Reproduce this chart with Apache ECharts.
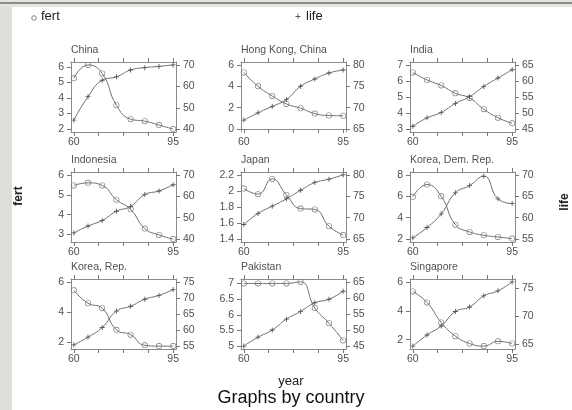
<!DOCTYPE html>
<html>
<head>
<meta charset="utf-8">
<title>fert / life by country</title>
<script src="https://cdn.jsdelivr.net/npm/echarts@6/dist/echarts.min.js"></script>
<style>
  html, body { margin: 0; padding: 0; background: #fff; }
  #chart { width: 572px; height: 410px; }
</style>
</head>
<body>
<div id="chart"></div>
<script>
// data
var years = [60, 65, 70, 75, 80, 85, 90, 95];
var countries = ['China', 'Hong Kong, China', 'India', 'Indonesia', 'Japan',
                 'Korea, Dem. Rep.', 'Korea, Rep.', 'Pakistan', 'Singapore'];

var fertChina     = [5.26, 6.12, 5.57, 3.53, 2.64, 2.51, 2.26, 2.0];
var fertHongKong  = [5.3, 4.0, 3.1, 2.35, 1.95, 1.45, 1.27, 1.25];
var fertIndia     = [6.53, 6.06, 5.72, 5.23, 4.94, 4.24, 3.71, 3.36];
var fertIndonesia = [5.47, 5.6, 5.47, 4.75, 4.27, 3.3, 2.98, 2.77];
var fertJapan     = [2.03, 1.96, 2.15, 1.95, 1.78, 1.77, 1.56, 1.45];
var fertKoreaDPR  = [5.95, 7.1, 6.0, 3.35, 2.67, 2.36, 2.2, 2.05];
var fertKoreaRep  = [5.44, 4.58, 4.25, 2.81, 2.49, 1.78, 1.73, 1.73];
var fertPakistan  = [7.0, 7.0, 7.0, 7.0, 7.05, 6.22, 5.73, 5.18];
var fertSingapore = [5.34, 4.58, 3.2, 2.25, 1.74, 1.56, 1.89, 1.74];

var lifeChina     = [44.2, 55.2, 62.9, 64.5, 67.7, 68.8, 69.4, 70.1];
var lifeHongKong  = [67.1, 68.8, 70.3, 71.9, 75.0, 76.7, 78.1, 78.8];
var lifeIndia     = [45.9, 48.5, 50.2, 53.0, 55.1, 58.3, 60.9, 63.5];
var lifeIndonesia = [42.9, 46.1, 48.7, 53.0, 55.3, 60.8, 62.5, 65.4];
var lifeJapan     = [68.4, 71.0, 72.7, 74.4, 76.4, 78.2, 79.0, 80.0];
var lifeKoreaDPR  = [55.3, 57.7, 60.9, 65.8, 67.5, 69.7, 64.4, 63.3];
var lifeKoreaRep  = [55.4, 57.8, 60.8, 65.9, 67.4, 69.6, 70.8, 72.6];
var lifePakistan  = [45.0, 47.8, 50.0, 53.4, 55.8, 58.5, 59.6, 62.1];
var lifeSingapore = [64.7, 66.7, 68.3, 70.9, 71.7, 73.7, 74.6, 76.2];

var fertTicks = [[2, 3, 4, 5, 6], [0, 2, 4, 6], [3, 4, 5, 6, 7], [3, 4, 5, 6],
                 [1.4, 1.6, 1.8, 2, 2.2], [2, 4, 6, 8], [2, 4, 6],
                 [5, 5.5, 6, 6.5, 7], [2, 4, 6]];
var lifeTicks = [[40, 50, 60, 70], [65, 70, 75, 80], [45, 50, 55, 60, 65],
                 [40, 50, 60, 70], [65, 70, 75, 80], [55, 60, 65, 70],
                 [55, 60, 65, 70, 75], [45, 50, 55, 60, 65], [65, 70, 75]];
var yearLabels = [60, 95];
var yearTicks = [60, 68.75, 77.5, 86.25, 95];

var fertAll = [fertChina, fertHongKong, fertIndia, fertIndonesia, fertJapan,
               fertKoreaDPR, fertKoreaRep, fertPakistan, fertSingapore];
var lifeAll = [lifeChina, lifeHongKong, lifeIndia, lifeIndonesia, lifeJapan,
               lifeKoreaDPR, lifeKoreaRep, lifePakistan, lifeSingapore];

var FONT = 'Liberation Sans, Arial, sans-serif';
var colLeft = [71, 241, 410];
var rowTop = [62, 172, 279];
var plusPath = 'path://M-0.7,-4L0.7,-4L0.7,-0.7L4,-0.7L4,0.7L0.7,0.7L0.7,4L-0.7,4L-0.7,0.7L-4,0.7L-4,-0.7L-0.7,-0.7Z';
// hollow ring drawn as a filled path so the stroke stays thin
var ringPath = 'path://M0,-5A5,5 0 1,1 0,5A5,5 0 1,1 0,-5ZM0,-4A4,4 0 1,0 0,4A4,4 0 1,0 0,-4Z';

function range(vals, ticks) {
    var lo = Math.min(Math.min.apply(null, vals), ticks[0]);
    var hi = Math.max(Math.max.apply(null, vals), ticks[ticks.length - 1]);
    var pad = (hi - lo) * 0.045;
    return [lo - pad, hi + pad];
}
function pairs(vals) {
    return years.map(function (y, i) { return [y, vals[i]]; });
}

var grids = [], xAxes = [], yAxes = [], series = [], graphics = [];
var axisLine = { lineStyle: { color: '#8a8a8a', width: 1 } };
var tickStyle = { color: '#777' };
function labels(values, margin) {
    return { customValues: values, color: '#505050', fontSize: 10.5, fontFamily: FONT, margin: margin };
}

countries.forEach(function (name, i) {
    var left = colLeft[i % 3], top = rowTop[Math.floor(i / 3)];
    grids.push({ left: left, top: top, width: 105, height: 70 });

    xAxes.push({
        gridIndex: i, type: 'value', position: 'bottom', min: 59, max: 96,
        axisLine: axisLine, splitLine: { show: false },
        axisTick: { length: 4, lineStyle: tickStyle, customValues: yearTicks },
        axisLabel: labels(yearLabels, 5)
    });
    xAxes.push({
        gridIndex: i, type: 'value', position: 'top', min: 59, max: 96,
        axisLine: axisLine, splitLine: { show: false },
        axisTick: { length: 4, lineStyle: tickStyle, customValues: yearTicks },
        axisLabel: { show: false }
    });

    var fr = range(fertAll[i], fertTicks[i]);
    var lr = range(lifeAll[i], lifeTicks[i]);
    yAxes.push({
        gridIndex: i, type: 'value', position: 'left', min: fr[0], max: fr[1],
        axisLine: Object.assign({ show: true }, axisLine), splitLine: { show: false },
        axisTick: { show: true, length: 4, lineStyle: tickStyle, customValues: fertTicks[i] },
        axisLabel: labels(fertTicks[i], 7)
    });
    yAxes.push({
        gridIndex: i, type: 'value', position: 'right', min: lr[0], max: lr[1],
        axisLine: Object.assign({ show: true }, axisLine), splitLine: { show: false },
        axisTick: { show: true, length: 4, lineStyle: tickStyle, customValues: lifeTicks[i] },
        axisLabel: labels(lifeTicks[i], 7)
    });

    series.push({
        name: 'fert', type: 'line', xAxisIndex: 2 * i, yAxisIndex: 2 * i,
        data: pairs(fertAll[i]), smooth: 0.5,
        symbol: ringPath, symbolSize: 6,
        lineStyle: { color: '#6e6e6e', width: 1 },
        itemStyle: { color: '#7a7a7a', borderWidth: 0 },
        animation: false
    });
    series.push({
        name: 'life', type: 'line', xAxisIndex: 2 * i, yAxisIndex: 2 * i + 1,
        data: pairs(lifeAll[i]), smooth: 0.5,
        symbol: plusPath, symbolSize: 5,
        lineStyle: { color: '#6e6e6e', width: 1 },
        itemStyle: { color: '#555', borderWidth: 0 },
        animation: false
    });

    graphics.push({
        type: 'text', left: left, top: top - 17,
        style: { text: name, fill: '#505050', font: '10.5px ' + FONT }
    });
});

// frame, legend and outer titles
graphics.push(
    { type: 'rect', shape: { x: 0, y: 0, width: 12, height: 410 }, style: { fill: '#dfdfda' } },
    { type: 'rect', shape: { x: 0, y: 0, width: 572, height: 7 }, style: { fill: '#e4e4df' } },
    { type: 'line', shape: { x1: 0, y1: 3, x2: 572, y2: 3 }, style: { stroke: '#333', lineWidth: 1 } },
    { type: 'circle', shape: { cx: 34, cy: 18, r: 2.3 }, style: { fill: '#fff', stroke: '#666', lineWidth: 0.8 } },
    { type: 'text', left: 41, top: 10, style: { text: 'fert', fill: '#222', font: '13px ' + FONT } },
    { type: 'text', left: 295, top: 12, style: { text: '+', fill: '#555', font: '10px ' + FONT } },
    { type: 'text', left: 306, top: 10, style: { text: 'life', fill: '#222', font: '13px ' + FONT } },
    { type: 'text', x: 19, y: 196, rotation: Math.PI / 2,
      style: { text: 'fert', fill: '#222', font: 'bold 12px ' + FONT, align: 'center', verticalAlign: 'middle' } },
    { type: 'text', x: 565, y: 202, rotation: Math.PI / 2,
      style: { text: 'life', fill: '#222', font: 'bold 12px ' + FONT, align: 'center', verticalAlign: 'middle' } },
    { type: 'text', x: 291, y: 381, style: { text: 'year', fill: '#222', font: '13px ' + FONT, align: 'center', verticalAlign: 'middle' } },
    { type: 'text', x: 291, y: 398, style: { text: 'Graphs by country', fill: '#111', font: '18px ' + FONT, align: 'center', verticalAlign: 'middle' } }
);

var myChart = echarts.init(document.getElementById('chart'));
myChart.setOption({
    animation: false,
    grid: grids,
    xAxis: xAxes,
    yAxis: yAxes,
    series: series,
    graphic: graphics
});
</script>
</body>
</html>
